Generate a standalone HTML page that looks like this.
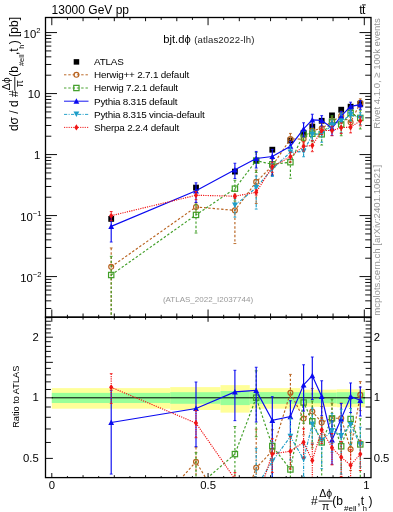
<!DOCTYPE html><html><head><meta charset="utf-8"><style>html,body{margin:0;padding:0;background:#fff;}svg{display:block;will-change:transform;}text{font-family:"Liberation Sans",sans-serif;}</style></head><body>
<svg width="393" height="512" viewBox="0 0 393 512">
<defs><clipPath id="cm"><rect x="45.50" y="17.50" width="325.50" height="299.70"/></clipPath>
<clipPath id="cr"><rect x="45.50" y="317.20" width="325.50" height="160.40"/></clipPath></defs>
<rect x="51.80" y="388.13" width="118.40" height="20.55" fill="#ffff99"/>
<rect x="170.20" y="387.11" width="50.30" height="22.86" fill="#ffff99"/>
<rect x="220.50" y="385.13" width="29.30" height="27.50" fill="#ffff99"/>
<rect x="249.80" y="388.13" width="50.60" height="20.55" fill="#ffff99"/>
<rect x="300.40" y="389.63" width="36.30" height="17.19" fill="#ffff99"/>
<rect x="336.70" y="389.23" width="28.10" height="18.07" fill="#ffff99"/>
<rect x="51.80" y="392.87" width="118.40" height="10.15" fill="#99ff99"/>
<rect x="170.20" y="392.21" width="50.30" height="11.56" fill="#99ff99"/>
<rect x="220.50" y="391.07" width="29.30" height="14.02" fill="#99ff99"/>
<rect x="249.80" y="392.13" width="50.60" height="11.73" fill="#99ff99"/>
<rect x="300.40" y="392.62" width="36.30" height="10.68" fill="#99ff99"/>
<rect x="336.70" y="392.21" width="28.10" height="11.56" fill="#99ff99"/>
<path d="M51.80,397.8H364.80" stroke="#000" stroke-width="1"/>
<g clip-path="url(#cm)">
<rect x="108.30" y="216.00" width="5.80" height="5.80" fill="#000"/><rect x="193.10" y="184.70" width="5.80" height="5.80" fill="#000"/><rect x="232.00" y="168.70" width="5.80" height="5.80" fill="#000"/><rect x="253.30" y="157.80" width="5.80" height="5.80" fill="#000"/><rect x="269.40" y="146.80" width="5.80" height="5.80" fill="#000"/><rect x="287.50" y="137.60" width="5.80" height="5.80" fill="#000"/><rect x="300.70" y="129.90" width="5.80" height="5.80" fill="#000"/><rect x="309.40" y="123.70" width="5.80" height="5.80" fill="#000"/><rect x="318.80" y="117.90" width="5.80" height="5.80" fill="#000"/><rect x="329.10" y="112.50" width="5.80" height="5.80" fill="#000"/><rect x="338.30" y="106.80" width="5.80" height="5.80" fill="#000"/><rect x="347.70" y="103.80" width="5.80" height="5.80" fill="#000"/><rect x="357.40" y="100.90" width="5.80" height="5.80" fill="#000"/>
<path d="M111.20,247.95V600.00M196.00,202.54V212.35M234.90,196.13V243.54M256.20,170.19V203.47M272.30,159.37V174.36M290.40,133.41V146.05M303.60,134.97V144.00M312.30,123.76V140.27M321.70,123.45V134.12M332.00,117.01V127.18M341.20,111.29V121.45M350.60,117.09V128.72M360.30,98.89V107.68" stroke="#b8621e" stroke-width="1.15" stroke-dasharray="2.4,1.9" fill="none"/>
<path d="M109.80,247.95h2.8M194.60,202.54h2.8M194.60,212.35h2.8M233.50,196.13h2.8M233.50,243.54h2.8M254.80,170.19h2.8M254.80,203.47h2.8M270.90,159.37h2.8M270.90,174.36h2.8M289.00,133.41h2.8M289.00,146.05h2.8M302.20,134.97h2.8M302.20,144.00h2.8M310.90,123.76h2.8M310.90,140.27h2.8M320.30,123.45h2.8M320.30,134.12h2.8M330.60,117.01h2.8M330.60,127.18h2.8M339.80,111.29h2.8M339.80,121.45h2.8M349.20,117.09h2.8M349.20,128.72h2.8M358.90,98.89h2.8M358.90,107.68h2.8" stroke="#b8621e" stroke-width="0.9" fill="none"/>
<path d="M111.20,266.80L196.00,206.99L234.90,210.40L256.20,181.91L272.30,165.82L290.40,138.98L303.60,139.10L312.30,130.75L321.70,128.25L332.00,121.61L341.20,115.88L350.60,122.28L360.30,102.92" stroke="#b8621e" stroke-width="1.15" stroke-dasharray="2.4,1.9" fill="none"/>
<circle cx="111.20" cy="266.80" r="2.45" fill="none" stroke="#b8621e" stroke-width="1.2"/><circle cx="196.00" cy="206.99" r="2.45" fill="none" stroke="#b8621e" stroke-width="1.2"/><circle cx="234.90" cy="210.40" r="2.45" fill="none" stroke="#b8621e" stroke-width="1.2"/><circle cx="256.20" cy="181.91" r="2.45" fill="none" stroke="#b8621e" stroke-width="1.2"/><circle cx="272.30" cy="165.82" r="2.45" fill="none" stroke="#b8621e" stroke-width="1.2"/><circle cx="290.40" cy="138.98" r="2.45" fill="none" stroke="#b8621e" stroke-width="1.2"/><circle cx="303.60" cy="139.10" r="2.45" fill="none" stroke="#b8621e" stroke-width="1.2"/><circle cx="312.30" cy="130.75" r="2.45" fill="none" stroke="#b8621e" stroke-width="1.2"/><circle cx="321.70" cy="128.25" r="2.45" fill="none" stroke="#b8621e" stroke-width="1.2"/><circle cx="332.00" cy="121.61" r="2.45" fill="none" stroke="#b8621e" stroke-width="1.2"/><circle cx="341.20" cy="115.88" r="2.45" fill="none" stroke="#b8621e" stroke-width="1.2"/><circle cx="350.60" cy="122.28" r="2.45" fill="none" stroke="#b8621e" stroke-width="1.2"/><circle cx="360.30" cy="102.92" r="2.45" fill="none" stroke="#b8621e" stroke-width="1.2"/>
<path d="M111.20,256.34V600.00M196.00,204.23V233.05M234.90,180.30V200.95M256.20,152.53V172.48M272.30,156.41V175.60M290.40,152.31V178.26M303.60,129.15V140.50M312.30,127.56V141.76M321.70,126.70V145.05M332.00,115.77V129.20M341.20,116.48V135.74M350.60,107.11V120.92M360.30,110.15V128.96" stroke="#3f9e26" stroke-width="1.15" stroke-dasharray="2.4,1.9" fill="none"/>
<path d="M109.80,256.34h2.8M194.60,204.23h2.8M194.60,233.05h2.8M233.50,180.30h2.8M233.50,200.95h2.8M254.80,152.53h2.8M254.80,172.48h2.8M270.90,156.41h2.8M270.90,175.60h2.8M289.00,152.31h2.8M289.00,178.26h2.8M302.20,129.15h2.8M302.20,140.50h2.8M310.90,127.56h2.8M310.90,141.76h2.8M320.30,126.70h2.8M320.30,145.05h2.8M330.60,115.77h2.8M330.60,129.20h2.8M339.80,116.48h2.8M339.80,135.74h2.8M349.20,107.11h2.8M349.20,120.92h2.8M358.90,110.15h2.8M358.90,128.96h2.8" stroke="#3f9e26" stroke-width="0.9" fill="none"/>
<path d="M111.20,275.00L196.00,214.90L234.90,188.66L256.20,160.67L272.30,164.31L290.40,162.23L303.60,134.22L312.30,133.72L321.70,134.31L332.00,121.64L341.20,124.40L350.60,113.12L360.30,117.92" stroke="#3f9e26" stroke-width="1.15" stroke-dasharray="2.4,1.9" fill="none"/>
<rect x="108.55" y="272.35" width="5.30" height="5.30" fill="none" stroke="#3f9e26" stroke-width="1.2"/><rect x="193.35" y="212.25" width="5.30" height="5.30" fill="none" stroke="#3f9e26" stroke-width="1.2"/><rect x="232.25" y="186.01" width="5.30" height="5.30" fill="none" stroke="#3f9e26" stroke-width="1.2"/><rect x="253.55" y="158.02" width="5.30" height="5.30" fill="none" stroke="#3f9e26" stroke-width="1.2"/><rect x="269.65" y="161.66" width="5.30" height="5.30" fill="none" stroke="#3f9e26" stroke-width="1.2"/><rect x="287.75" y="159.58" width="5.30" height="5.30" fill="none" stroke="#3f9e26" stroke-width="1.2"/><rect x="300.95" y="131.57" width="5.30" height="5.30" fill="none" stroke="#3f9e26" stroke-width="1.2"/><rect x="309.65" y="131.07" width="5.30" height="5.30" fill="none" stroke="#3f9e26" stroke-width="1.2"/><rect x="319.05" y="131.66" width="5.30" height="5.30" fill="none" stroke="#3f9e26" stroke-width="1.2"/><rect x="329.35" y="118.99" width="5.30" height="5.30" fill="none" stroke="#3f9e26" stroke-width="1.2"/><rect x="338.55" y="121.75" width="5.30" height="5.30" fill="none" stroke="#3f9e26" stroke-width="1.2"/><rect x="347.95" y="110.47" width="5.30" height="5.30" fill="none" stroke="#3f9e26" stroke-width="1.2"/><rect x="357.65" y="115.27" width="5.30" height="5.30" fill="none" stroke="#3f9e26" stroke-width="1.2"/>
<path d="M111.20,216.62V242.02M196.00,182.82V202.41M234.90,163.26V178.53M256.20,151.44V168.03M272.30,149.36V175.82M290.40,141.40V152.05M303.60,122.79V136.83M312.30,114.24V127.12M321.70,115.64V126.22M332.00,122.42V135.56M341.20,111.44V121.67M350.60,102.20V111.16M360.30,100.52V109.32" stroke="#0a0af0" stroke-width="1.15" fill="none"/>
<path d="M109.80,216.62h2.8M109.80,242.02h2.8M194.60,182.82h2.8M194.60,202.41h2.8M233.50,163.26h2.8M233.50,178.53h2.8M254.80,151.44h2.8M254.80,168.03h2.8M270.90,149.36h2.8M270.90,175.82h2.8M289.00,141.40h2.8M289.00,152.05h2.8M302.20,122.79h2.8M302.20,136.83h2.8M310.90,114.24h2.8M310.90,127.12h2.8M320.30,115.64h2.8M320.30,126.22h2.8M330.60,122.42h2.8M330.60,135.56h2.8M339.80,111.44h2.8M339.80,121.67h2.8M349.20,102.20h2.8M349.20,111.16h2.8M358.90,100.52h2.8M358.90,109.32h2.8" stroke="#0a0af0" stroke-width="0.9" fill="none"/>
<path d="M111.20,226.38L196.00,190.84L234.90,169.81L256.20,158.46L272.30,156.52L290.40,146.20L303.60,128.89L312.30,119.90L321.70,120.41L332.00,128.19L341.20,116.06L350.60,106.31L360.30,104.56" stroke="#0a0af0" stroke-width="1.15" fill="none"/>
<path d="M111.20,223.48L114.10,228.98L108.30,228.98Z" fill="#0a0af0"/><path d="M196.00,187.94L198.90,193.44L193.10,193.44Z" fill="#0a0af0"/><path d="M234.90,166.91L237.80,172.41L232.00,172.41Z" fill="#0a0af0"/><path d="M256.20,155.56L259.10,161.06L253.30,161.06Z" fill="#0a0af0"/><path d="M272.30,153.62L275.20,159.12L269.40,159.12Z" fill="#0a0af0"/><path d="M290.40,143.30L293.30,148.80L287.50,148.80Z" fill="#0a0af0"/><path d="M303.60,125.99L306.50,131.49L300.70,131.49Z" fill="#0a0af0"/><path d="M312.30,117.00L315.20,122.50L309.40,122.50Z" fill="#0a0af0"/><path d="M321.70,117.51L324.60,123.01L318.80,123.01Z" fill="#0a0af0"/><path d="M332.00,125.29L334.90,130.79L329.10,130.79Z" fill="#0a0af0"/><path d="M341.20,113.16L344.10,118.66L338.30,118.66Z" fill="#0a0af0"/><path d="M350.60,103.41L353.50,108.91L347.70,108.91Z" fill="#0a0af0"/><path d="M360.30,101.66L363.20,107.16L357.40,107.16Z" fill="#0a0af0"/>
<path d="M234.90,197.29V217.15M256.20,176.02V209.10M272.30,163.07V176.50M290.40,146.69V159.31M303.60,147.01V156.75M312.30,129.71V140.61M321.70,127.24V142.29M332.00,120.13V131.90M341.20,113.16V132.84M350.60,109.96V120.93M360.30,112.72V124.71" stroke="#1e9ec8" stroke-width="1.15" stroke-dasharray="3.2,1.4,1,1.4" fill="none"/>
<path d="M233.50,197.29h2.8M233.50,217.15h2.8M254.80,176.02h2.8M254.80,209.10h2.8M270.90,163.07h2.8M270.90,176.50h2.8M289.00,146.69h2.8M289.00,159.31h2.8M302.20,147.01h2.8M302.20,156.75h2.8M310.90,129.71h2.8M310.90,140.61h2.8M320.30,127.24h2.8M320.30,142.29h2.8M330.60,120.13h2.8M330.60,131.90h2.8M339.80,113.16h2.8M339.80,132.84h2.8M349.20,109.96h2.8M349.20,120.93h2.8M358.90,112.72h2.8M358.90,124.71h2.8" stroke="#1e9ec8" stroke-width="0.9" fill="none"/>
<path d="M234.90,205.40L256.20,187.70L272.30,168.94L290.40,152.26L303.60,151.44L312.30,134.60L321.70,133.71L332.00,125.37L341.20,121.21L350.60,114.88L360.30,118.04" stroke="#1e9ec8" stroke-width="1.15" stroke-dasharray="3.2,1.4,1,1.4" fill="none"/>
<path d="M234.90,208.10L237.80,202.60L232.00,202.60Z" fill="#1e9ec8"/><path d="M256.20,190.40L259.10,184.90L253.30,184.90Z" fill="#1e9ec8"/><path d="M272.30,171.64L275.20,166.14L269.40,166.14Z" fill="#1e9ec8"/><path d="M290.40,154.96L293.30,149.46L287.50,149.46Z" fill="#1e9ec8"/><path d="M303.60,154.14L306.50,148.64L300.70,148.64Z" fill="#1e9ec8"/><path d="M312.30,137.30L315.20,131.80L309.40,131.80Z" fill="#1e9ec8"/><path d="M321.70,136.41L324.60,130.91L318.80,130.91Z" fill="#1e9ec8"/><path d="M332.00,128.07L334.90,122.57L329.10,122.57Z" fill="#1e9ec8"/><path d="M341.20,123.91L344.10,118.41L338.30,118.41Z" fill="#1e9ec8"/><path d="M350.60,117.58L353.50,112.08L347.70,112.08Z" fill="#1e9ec8"/><path d="M360.30,120.74L363.20,115.24L357.40,115.24Z" fill="#1e9ec8"/>
<path d="M111.20,211.59V220.61M196.00,191.48V199.68M234.90,194.26V198.29M256.20,189.80V195.06M272.30,162.12V172.32M290.40,152.20V162.07M303.60,142.18V151.07M312.30,140.66V151.67M321.70,126.93V134.62M332.00,126.23V135.72M341.20,122.93V133.52M350.60,122.41V132.86M360.30,116.67V125.84" stroke="#f01414" stroke-width="1.15" stroke-dasharray="1.2,1.1" fill="none"/>
<path d="M109.80,211.59h2.8M109.80,220.61h2.8M194.60,191.48h2.8M194.60,199.68h2.8M233.50,194.26h2.8M233.50,198.29h2.8M254.80,189.80h2.8M254.80,195.06h2.8M270.90,162.12h2.8M270.90,172.32h2.8M289.00,152.20h2.8M289.00,162.07h2.8M302.20,142.18h2.8M302.20,151.07h2.8M310.90,140.66h2.8M310.90,151.67h2.8M320.30,126.93h2.8M320.30,134.62h2.8M330.60,126.23h2.8M330.60,135.72h2.8M339.80,122.93h2.8M339.80,133.52h2.8M349.20,122.41h2.8M349.20,132.86h2.8M358.90,116.67h2.8M358.90,125.84h2.8" stroke="#f01414" stroke-width="0.9" fill="none"/>
<path d="M111.20,215.72L196.00,195.27L234.90,196.20L256.20,192.30L272.30,166.73L290.40,156.68L303.60,146.25L312.30,145.60L321.70,130.50L332.00,130.55L341.20,127.70L350.60,127.12L360.30,120.86" stroke="#f01414" stroke-width="1.15" stroke-dasharray="1.2,1.1" fill="none"/>
<path d="M111.20,212.62L113.30,215.72L111.20,218.82L109.10,215.72Z" fill="#f01414"/><path d="M196.00,192.17L198.10,195.27L196.00,198.37L193.90,195.27Z" fill="#f01414"/><path d="M234.90,193.10L237.00,196.20L234.90,199.30L232.80,196.20Z" fill="#f01414"/><path d="M256.20,189.20L258.30,192.30L256.20,195.40L254.10,192.30Z" fill="#f01414"/><path d="M272.30,163.63L274.40,166.73L272.30,169.83L270.20,166.73Z" fill="#f01414"/><path d="M290.40,153.58L292.50,156.68L290.40,159.78L288.30,156.68Z" fill="#f01414"/><path d="M303.60,143.15L305.70,146.25L303.60,149.35L301.50,146.25Z" fill="#f01414"/><path d="M312.30,142.50L314.40,145.60L312.30,148.70L310.20,145.60Z" fill="#f01414"/><path d="M321.70,127.40L323.80,130.50L321.70,133.60L319.60,130.50Z" fill="#f01414"/><path d="M332.00,127.45L334.10,130.55L332.00,133.65L329.90,130.55Z" fill="#f01414"/><path d="M341.20,124.60L343.30,127.70L341.20,130.80L339.10,127.70Z" fill="#f01414"/><path d="M350.60,124.02L352.70,127.12L350.60,130.22L348.50,127.12Z" fill="#f01414"/><path d="M360.30,117.76L362.40,120.86L360.30,123.96L358.20,120.86Z" fill="#f01414"/>
</g>
<g clip-path="url(#cr)">
<path d="M111.20,493.68V600.00M196.00,447.11V479.47M234.90,478.75V635.21M256.20,429.10V538.93M272.30,429.72V479.19M290.40,374.40V416.13M303.60,404.97V434.76M312.30,388.44V442.90M321.70,406.55V441.77M332.00,403.12V436.68M341.20,403.03V436.56M350.60,432.10V470.48M360.30,381.59V410.61" stroke="#b8621e" stroke-width="1.15" stroke-dasharray="2.4,1.9" fill="none"/>
<path d="M109.80,493.68h2.8M194.60,447.11h2.8M194.60,479.47h2.8M233.50,478.75h2.8M233.50,635.21h2.8M254.80,429.10h2.8M254.80,538.93h2.8M270.90,429.72h2.8M270.90,479.19h2.8M289.00,374.40h2.8M289.00,416.13h2.8M302.20,404.97h2.8M302.20,434.76h2.8M310.90,388.44h2.8M310.90,442.90h2.8M320.30,406.55h2.8M320.30,441.77h2.8M330.60,403.12h2.8M330.60,436.68h2.8M339.80,403.03h2.8M339.80,436.56h2.8M349.20,432.10h2.8M349.20,470.48h2.8M358.90,381.59h2.8M358.90,410.61h2.8" stroke="#b8621e" stroke-width="0.9" fill="none"/>
<path d="M111.20,555.88L196.00,461.80L234.90,525.85L256.20,467.80L272.30,451.00L290.40,392.80L303.60,418.60L312.30,411.50L321.70,422.40L332.00,418.30L341.20,418.20L350.60,449.20L360.30,394.90" stroke="#b8621e" stroke-width="1.15" stroke-dasharray="2.4,1.9" fill="none"/>
<circle cx="111.20" cy="555.88" r="2.45" fill="none" stroke="#b8621e" stroke-width="1.2"/><circle cx="196.00" cy="461.80" r="2.45" fill="none" stroke="#b8621e" stroke-width="1.2"/><circle cx="234.90" cy="525.85" r="2.45" fill="none" stroke="#b8621e" stroke-width="1.2"/><circle cx="256.20" cy="467.80" r="2.45" fill="none" stroke="#b8621e" stroke-width="1.2"/><circle cx="272.30" cy="451.00" r="2.45" fill="none" stroke="#b8621e" stroke-width="1.2"/><circle cx="290.40" cy="392.80" r="2.45" fill="none" stroke="#b8621e" stroke-width="1.2"/><circle cx="303.60" cy="418.60" r="2.45" fill="none" stroke="#b8621e" stroke-width="1.2"/><circle cx="312.30" cy="411.50" r="2.45" fill="none" stroke="#b8621e" stroke-width="1.2"/><circle cx="321.70" cy="422.40" r="2.45" fill="none" stroke="#b8621e" stroke-width="1.2"/><circle cx="332.00" cy="418.30" r="2.45" fill="none" stroke="#b8621e" stroke-width="1.2"/><circle cx="341.20" cy="418.20" r="2.45" fill="none" stroke="#b8621e" stroke-width="1.2"/><circle cx="350.60" cy="449.20" r="2.45" fill="none" stroke="#b8621e" stroke-width="1.2"/><circle cx="360.30" cy="394.90" r="2.45" fill="none" stroke="#b8621e" stroke-width="1.2"/>
<path d="M111.20,521.37V600.00M196.00,452.68V547.80M234.90,426.50V494.67M256.20,370.84V436.66M272.30,419.95V483.27M290.40,436.77V522.43M303.60,385.76V423.22M312.30,400.98V447.82M321.70,417.26V477.82M332.00,399.03V443.33M341.20,420.17V483.73M350.60,399.15V444.72M360.30,418.76V480.84" stroke="#3f9e26" stroke-width="1.15" stroke-dasharray="2.4,1.9" fill="none"/>
<path d="M109.80,521.37h2.8M194.60,452.68h2.8M194.60,547.80h2.8M233.50,426.50h2.8M233.50,494.67h2.8M254.80,370.84h2.8M254.80,436.66h2.8M270.90,419.95h2.8M270.90,483.27h2.8M289.00,436.77h2.8M289.00,522.43h2.8M302.20,385.76h2.8M302.20,423.22h2.8M310.90,400.98h2.8M310.90,447.82h2.8M320.30,417.26h2.8M320.30,477.82h2.8M330.60,399.03h2.8M330.60,443.33h2.8M339.80,420.17h2.8M339.80,483.73h2.8M349.20,399.15h2.8M349.20,444.72h2.8M358.90,418.76h2.8M358.90,480.84h2.8" stroke="#3f9e26" stroke-width="0.9" fill="none"/>
<path d="M111.20,582.94L196.00,487.89L234.90,454.10L256.20,397.70L272.30,446.00L290.40,469.50L303.60,402.50L312.30,421.30L321.70,442.40L332.00,418.40L341.20,446.30L350.60,419.00L360.30,444.40" stroke="#3f9e26" stroke-width="1.15" stroke-dasharray="2.4,1.9" fill="none"/>
<rect x="108.55" y="580.29" width="5.30" height="5.30" fill="none" stroke="#3f9e26" stroke-width="1.2"/><rect x="193.35" y="485.24" width="5.30" height="5.30" fill="none" stroke="#3f9e26" stroke-width="1.2"/><rect x="232.25" y="451.45" width="5.30" height="5.30" fill="none" stroke="#3f9e26" stroke-width="1.2"/><rect x="253.55" y="395.05" width="5.30" height="5.30" fill="none" stroke="#3f9e26" stroke-width="1.2"/><rect x="269.65" y="443.35" width="5.30" height="5.30" fill="none" stroke="#3f9e26" stroke-width="1.2"/><rect x="287.75" y="466.85" width="5.30" height="5.30" fill="none" stroke="#3f9e26" stroke-width="1.2"/><rect x="300.95" y="399.85" width="5.30" height="5.30" fill="none" stroke="#3f9e26" stroke-width="1.2"/><rect x="309.65" y="418.65" width="5.30" height="5.30" fill="none" stroke="#3f9e26" stroke-width="1.2"/><rect x="319.05" y="439.75" width="5.30" height="5.30" fill="none" stroke="#3f9e26" stroke-width="1.2"/><rect x="329.35" y="415.75" width="5.30" height="5.30" fill="none" stroke="#3f9e26" stroke-width="1.2"/><rect x="338.55" y="443.65" width="5.30" height="5.30" fill="none" stroke="#3f9e26" stroke-width="1.2"/><rect x="347.95" y="416.35" width="5.30" height="5.30" fill="none" stroke="#3f9e26" stroke-width="1.2"/><rect x="357.65" y="441.75" width="5.30" height="5.30" fill="none" stroke="#3f9e26" stroke-width="1.2"/>
<path d="M111.20,390.28V474.09M196.00,382.02V446.67M234.90,370.29V420.67M256.20,367.25V421.99M272.30,396.66V484.00M290.40,400.78V435.93M303.60,364.77V411.09M312.30,357.00V399.51M321.70,380.78V415.69M332.00,420.98V464.35M341.20,403.54V437.30M350.60,382.96V412.53M360.30,386.97V416.03" stroke="#0a0af0" stroke-width="1.15" fill="none"/>
<path d="M109.80,390.28h2.8M109.80,474.09h2.8M194.60,382.02h2.8M194.60,446.67h2.8M233.50,370.29h2.8M233.50,420.67h2.8M254.80,367.25h2.8M254.80,421.99h2.8M270.90,396.66h2.8M270.90,484.00h2.8M289.00,400.78h2.8M289.00,435.93h2.8M302.20,364.77h2.8M302.20,411.09h2.8M310.90,357.00h2.8M310.90,399.51h2.8M320.30,380.78h2.8M320.30,415.69h2.8M330.60,420.98h2.8M330.60,464.35h2.8M339.80,403.54h2.8M339.80,437.30h2.8M349.20,382.96h2.8M349.20,412.53h2.8M358.90,386.97h2.8M358.90,416.03h2.8" stroke="#0a0af0" stroke-width="0.9" fill="none"/>
<path d="M111.20,422.50L196.00,408.50L234.90,391.90L256.20,390.40L272.30,420.30L290.40,416.60L303.60,384.90L312.30,375.70L321.70,396.50L332.00,440.00L341.20,418.80L350.60,396.50L360.30,400.30" stroke="#0a0af0" stroke-width="1.15" fill="none"/>
<path d="M111.20,419.60L114.10,425.10L108.30,425.10Z" fill="#0a0af0"/><path d="M196.00,405.60L198.90,411.10L193.10,411.10Z" fill="#0a0af0"/><path d="M234.90,389.00L237.80,394.50L232.00,394.50Z" fill="#0a0af0"/><path d="M256.20,387.50L259.10,393.00L253.30,393.00Z" fill="#0a0af0"/><path d="M272.30,417.40L275.20,422.90L269.40,422.90Z" fill="#0a0af0"/><path d="M290.40,413.70L293.30,419.20L287.50,419.20Z" fill="#0a0af0"/><path d="M303.60,382.00L306.50,387.50L300.70,387.50Z" fill="#0a0af0"/><path d="M312.30,372.80L315.20,378.30L309.40,378.30Z" fill="#0a0af0"/><path d="M321.70,393.60L324.60,399.10L318.80,399.10Z" fill="#0a0af0"/><path d="M332.00,437.10L334.90,442.60L329.10,442.60Z" fill="#0a0af0"/><path d="M341.20,415.90L344.10,421.40L338.30,421.40Z" fill="#0a0af0"/><path d="M350.60,393.60L353.50,399.10L347.70,399.10Z" fill="#0a0af0"/><path d="M360.30,397.40L363.20,402.90L357.40,402.90Z" fill="#0a0af0"/>
<path d="M234.90,482.58V548.11M256.20,448.35V557.53M272.30,441.92V486.23M290.40,418.23V459.88M303.60,444.69V476.85M312.30,408.05V444.02M321.70,419.04V468.72M332.00,413.42V452.26M341.20,409.23V474.17M350.60,408.55V444.78M360.30,427.23V466.81" stroke="#1e9ec8" stroke-width="1.15" stroke-dasharray="3.2,1.4,1,1.4" fill="none"/>
<path d="M233.50,482.58h2.8M233.50,548.11h2.8M254.80,448.35h2.8M254.80,557.53h2.8M270.90,441.92h2.8M270.90,486.23h2.8M289.00,418.23h2.8M289.00,459.88h2.8M302.20,444.69h2.8M302.20,476.85h2.8M310.90,408.05h2.8M310.90,444.02h2.8M320.30,419.04h2.8M320.30,468.72h2.8M330.60,413.42h2.8M330.60,452.26h2.8M339.80,409.23h2.8M339.80,474.17h2.8M349.20,408.55h2.8M349.20,444.78h2.8M358.90,427.23h2.8M358.90,466.81h2.8" stroke="#1e9ec8" stroke-width="0.9" fill="none"/>
<path d="M234.90,509.34L256.20,486.90L272.30,461.30L290.40,436.60L303.60,459.30L312.30,424.20L321.70,440.40L332.00,430.70L341.20,435.80L350.60,424.80L360.30,444.80" stroke="#1e9ec8" stroke-width="1.15" stroke-dasharray="3.2,1.4,1,1.4" fill="none"/>
<path d="M234.90,512.04L237.80,506.54L232.00,506.54Z" fill="#1e9ec8"/><path d="M256.20,489.60L259.10,484.10L253.30,484.10Z" fill="#1e9ec8"/><path d="M272.30,464.00L275.20,458.50L269.40,458.50Z" fill="#1e9ec8"/><path d="M290.40,439.30L293.30,433.80L287.50,433.80Z" fill="#1e9ec8"/><path d="M303.60,462.00L306.50,456.50L300.70,456.50Z" fill="#1e9ec8"/><path d="M312.30,426.90L315.20,421.40L309.40,421.40Z" fill="#1e9ec8"/><path d="M321.70,443.10L324.60,437.60L318.80,437.60Z" fill="#1e9ec8"/><path d="M332.00,433.40L334.90,427.90L329.10,427.90Z" fill="#1e9ec8"/><path d="M341.20,438.50L344.10,433.00L338.30,433.00Z" fill="#1e9ec8"/><path d="M350.60,427.50L353.50,422.00L347.70,422.00Z" fill="#1e9ec8"/><path d="M360.30,447.50L363.20,442.00L357.40,442.00Z" fill="#1e9ec8"/>
<path d="M111.20,373.69V403.43M196.00,410.61V437.68M234.90,472.59V485.89M256.20,493.84V511.19M272.30,438.78V472.44M290.40,436.42V469.00M303.60,428.76V458.09M312.30,444.21V480.54M321.70,418.02V443.41M332.00,433.54V464.85M341.20,441.46V476.41M350.60,449.66V484.12M360.30,440.27V470.53" stroke="#f01414" stroke-width="1.15" stroke-dasharray="1.2,1.1" fill="none"/>
<path d="M109.80,373.69h2.8M109.80,403.43h2.8M194.60,410.61h2.8M194.60,437.68h2.8M233.50,472.59h2.8M233.50,485.89h2.8M254.80,493.84h2.8M254.80,511.19h2.8M270.90,438.78h2.8M270.90,472.44h2.8M289.00,436.42h2.8M289.00,469.00h2.8M302.20,428.76h2.8M302.20,458.09h2.8M310.90,444.21h2.8M310.90,480.54h2.8M320.30,418.02h2.8M320.30,443.41h2.8M330.60,433.54h2.8M330.60,464.85h2.8M339.80,441.46h2.8M339.80,476.41h2.8M349.20,449.66h2.8M349.20,484.12h2.8M358.90,440.27h2.8M358.90,470.53h2.8" stroke="#f01414" stroke-width="0.9" fill="none"/>
<path d="M111.20,387.30L196.00,423.10L234.90,478.98L256.20,502.08L272.30,454.00L290.40,451.20L303.60,442.20L312.30,460.50L321.70,429.80L332.00,447.80L341.20,457.20L350.60,465.20L360.30,454.10" stroke="#f01414" stroke-width="1.15" stroke-dasharray="1.2,1.1" fill="none"/>
<path d="M111.20,384.20L113.30,387.30L111.20,390.40L109.10,387.30Z" fill="#f01414"/><path d="M196.00,420.00L198.10,423.10L196.00,426.20L193.90,423.10Z" fill="#f01414"/><path d="M234.90,475.88L237.00,478.98L234.90,482.08L232.80,478.98Z" fill="#f01414"/><path d="M256.20,498.98L258.30,502.08L256.20,505.18L254.10,502.08Z" fill="#f01414"/><path d="M272.30,450.90L274.40,454.00L272.30,457.10L270.20,454.00Z" fill="#f01414"/><path d="M290.40,448.10L292.50,451.20L290.40,454.30L288.30,451.20Z" fill="#f01414"/><path d="M303.60,439.10L305.70,442.20L303.60,445.30L301.50,442.20Z" fill="#f01414"/><path d="M312.30,457.40L314.40,460.50L312.30,463.60L310.20,460.50Z" fill="#f01414"/><path d="M321.70,426.70L323.80,429.80L321.70,432.90L319.60,429.80Z" fill="#f01414"/><path d="M332.00,444.70L334.10,447.80L332.00,450.90L329.90,447.80Z" fill="#f01414"/><path d="M341.20,454.10L343.30,457.20L341.20,460.30L339.10,457.20Z" fill="#f01414"/><path d="M350.60,462.10L352.70,465.20L350.60,468.30L348.50,465.20Z" fill="#f01414"/><path d="M360.30,451.00L362.40,454.10L360.30,457.20L358.20,454.10Z" fill="#f01414"/>
</g>
<rect x="45.5" y="17.5" width="325.5" height="299.7" fill="none" stroke="#000" stroke-width="1.3"/>
<rect x="45.5" y="317.2" width="325.5" height="160.40000000000003" fill="none" stroke="#000" stroke-width="1.3"/>
<path d="M51.80,17.5v7.7M51.80,317.2v-7.7M51.80,317.2v4.6M51.80,477.6v-4.6M67.42,17.5v2.4M67.42,317.2v-2.4M67.42,317.2v1.5M67.42,477.6v-1.5M83.05,17.5v3.7M83.05,317.2v-3.7M83.05,317.2v2.4M83.05,477.6v-2.4M98.68,17.5v2.4M98.68,317.2v-2.4M98.68,317.2v1.5M98.68,477.6v-1.5M114.30,17.5v3.7M114.30,317.2v-3.7M114.30,317.2v2.4M114.30,477.6v-2.4M129.93,17.5v2.4M129.93,317.2v-2.4M129.93,317.2v1.5M129.93,477.6v-1.5M145.55,17.5v3.7M145.55,317.2v-3.7M145.55,317.2v2.4M145.55,477.6v-2.4M161.18,17.5v2.4M161.18,317.2v-2.4M161.18,317.2v1.5M161.18,477.6v-1.5M176.80,17.5v3.7M176.80,317.2v-3.7M176.80,317.2v2.4M176.80,477.6v-2.4M192.43,17.5v2.4M192.43,317.2v-2.4M192.43,317.2v1.5M192.43,477.6v-1.5M208.05,17.5v7.7M208.05,317.2v-7.7M208.05,317.2v4.6M208.05,477.6v-4.6M223.68,17.5v2.4M223.68,317.2v-2.4M223.68,317.2v1.5M223.68,477.6v-1.5M239.30,17.5v3.7M239.30,317.2v-3.7M239.30,317.2v2.4M239.30,477.6v-2.4M254.93,17.5v2.4M254.93,317.2v-2.4M254.93,317.2v1.5M254.93,477.6v-1.5M270.55,17.5v3.7M270.55,317.2v-3.7M270.55,317.2v2.4M270.55,477.6v-2.4M286.18,17.5v2.4M286.18,317.2v-2.4M286.18,317.2v1.5M286.18,477.6v-1.5M301.80,17.5v3.7M301.80,317.2v-3.7M301.80,317.2v2.4M301.80,477.6v-2.4M317.43,17.5v2.4M317.43,317.2v-2.4M317.43,317.2v1.5M317.43,477.6v-1.5M333.05,17.5v3.7M333.05,317.2v-3.7M333.05,317.2v2.4M333.05,477.6v-2.4M348.68,17.5v2.4M348.68,317.2v-2.4M348.68,317.2v1.5M348.68,477.6v-1.5M364.30,17.5v7.7M364.30,317.2v-7.7M364.30,317.2v4.6M364.30,477.6v-4.6M45.5,308.47h5.8M371.0,308.47h-5.8M45.5,300.84h5.8M371.0,300.84h-5.8M45.5,294.93h5.8M371.0,294.93h-5.8M45.5,290.10h5.8M371.0,290.10h-5.8M45.5,286.02h5.8M371.0,286.02h-5.8M45.5,282.48h5.8M371.0,282.48h-5.8M45.5,279.36h5.8M371.0,279.36h-5.8M45.5,276.57h11.5M371.0,276.57h-11.5M45.5,258.21h5.8M371.0,258.21h-5.8M45.5,247.47h5.8M371.0,247.47h-5.8M45.5,239.84h5.8M371.0,239.84h-5.8M45.5,233.93h5.8M371.0,233.93h-5.8M45.5,229.10h5.8M371.0,229.10h-5.8M45.5,225.02h5.8M371.0,225.02h-5.8M45.5,221.48h5.8M371.0,221.48h-5.8M45.5,218.36h5.8M371.0,218.36h-5.8M45.5,215.57h11.5M371.0,215.57h-11.5M45.5,197.21h5.8M371.0,197.21h-5.8M45.5,186.47h5.8M371.0,186.47h-5.8M45.5,178.84h5.8M371.0,178.84h-5.8M45.5,172.93h5.8M371.0,172.93h-5.8M45.5,168.10h5.8M371.0,168.10h-5.8M45.5,164.02h5.8M371.0,164.02h-5.8M45.5,160.48h5.8M371.0,160.48h-5.8M45.5,157.36h5.8M371.0,157.36h-5.8M45.5,154.57h11.5M371.0,154.57h-11.5M45.5,136.21h5.8M371.0,136.21h-5.8M45.5,125.47h5.8M371.0,125.47h-5.8M45.5,117.84h5.8M371.0,117.84h-5.8M45.5,111.93h5.8M371.0,111.93h-5.8M45.5,107.10h5.8M371.0,107.10h-5.8M45.5,103.02h5.8M371.0,103.02h-5.8M45.5,99.48h5.8M371.0,99.48h-5.8M45.5,96.36h5.8M371.0,96.36h-5.8M45.5,93.57h11.5M371.0,93.57h-11.5M45.5,75.21h5.8M371.0,75.21h-5.8M45.5,64.47h5.8M371.0,64.47h-5.8M45.5,56.84h5.8M371.0,56.84h-5.8M45.5,50.93h5.8M371.0,50.93h-5.8M45.5,46.10h5.8M371.0,46.10h-5.8M45.5,42.02h5.8M371.0,42.02h-5.8M45.5,38.48h5.8M371.0,38.48h-5.8M45.5,35.36h5.8M371.0,35.36h-5.8M45.5,32.57h11.5M371.0,32.57h-11.5M45.5,458.40h7.4M371.0,458.40h-7.4M45.5,442.46h5.4M371.0,442.46h-5.4M45.5,428.98h5.4M371.0,428.98h-5.4M45.5,417.31h5.4M371.0,417.31h-5.4M45.5,407.01h5.4M371.0,407.01h-5.4M45.5,397.80h7.4M371.0,397.80h-7.4M45.5,389.47h5.4M371.0,389.47h-5.4M45.5,381.86h5.4M371.0,381.86h-5.4M45.5,374.86h5.4M371.0,374.86h-5.4M45.5,368.38h5.4M371.0,368.38h-5.4M45.5,362.35h7.4M371.0,362.35h-7.4M45.5,356.71h5.4M371.0,356.71h-5.4M45.5,351.41h5.4M371.0,351.41h-5.4M45.5,346.41h5.4M371.0,346.41h-5.4M45.5,341.68h5.4M371.0,341.68h-5.4M45.5,337.20h7.4M371.0,337.20h-7.4M45.5,332.93h5.4M371.0,332.93h-5.4M45.5,328.87h5.4M371.0,328.87h-5.4M45.5,324.98h5.4M371.0,324.98h-5.4M45.5,321.26h5.4M371.0,321.26h-5.4M45.5,317.69h5.4M371.0,317.69h-5.4" stroke="#000" stroke-width="0.95" fill="none"/>
<g fill="#000">
<text x="51.6" y="14.3" font-size="12">13000 GeV pp</text>
<text x="359.2" y="14.3" font-size="12.2" letter-spacing="-0.5">tt</text><path d="M362.0,4.9H365.8" stroke="#000" stroke-width="0.9"/>
<text x="163.3" y="43.3" font-size="11.2">bjt.dϕ</text>
<text x="194.2" y="43.3" font-size="9.6" letter-spacing="0.12" fill="#222">(atlas2022-lh)</text>
<text x="36.20" y="37.57" font-size="11.3" text-anchor="end">10</text><text x="36.20" y="32.97" font-size="7.6">2</text>
<text x="40.4" y="97.57" font-size="11.3" text-anchor="end">10</text>
<text x="40.4" y="158.57" font-size="11.3" text-anchor="end">1</text>
<text x="32.80" y="220.57" font-size="11.3" text-anchor="end">10</text><text x="32.80" y="215.97" font-size="7.6">−1</text>
<text x="32.80" y="281.57" font-size="11.3" text-anchor="end">10</text><text x="32.80" y="276.97" font-size="7.6">−2</text>
<text x="38.8" y="340.80" font-size="11.3" text-anchor="end">2</text>
<text x="38.8" y="401.40" font-size="11.3" text-anchor="end">1</text>
<text x="38.8" y="462.00" font-size="11.3" text-anchor="end">0.5</text>
<text x="51.8" y="488.6" font-size="11.3" text-anchor="middle">0</text>
<text x="208.1" y="488.6" font-size="11.3" text-anchor="middle">0.5</text>
<text x="366.3" y="488.6" font-size="11.3" text-anchor="middle">1</text>
<text x="373.7" y="340.80" font-size="11.3">2</text>
<text x="373.7" y="401.40" font-size="11.3">1</text>
<text x="373.7" y="462.00" font-size="11.3">0.5</text>
<text transform="translate(18.6,396.8) rotate(-90)" font-size="9.2" text-anchor="middle">Ratio to ATLAS</text>
</g>
<text x="208" y="302" font-size="8" text-anchor="middle" fill="#999">(ATLAS_2022_I2037744)</text>
<text transform="translate(380.3,18.2) rotate(-90)" font-size="9.57" text-anchor="end" fill="#959595">Rivet 4.1.0, ≥ 100k events</text>
<text transform="translate(380.3,164.9) rotate(-90)" font-size="9.65" text-anchor="end" fill="#959595">mcplots.cern.ch [arXiv:2401.10621]</text>
<rect x="73.70" y="59.14" width="5.51" height="5.51" fill="#000"/>
<text x="94" y="64.9" font-size="9.9" letter-spacing="-0.2">ATLAS</text>
<path d="M64,74.8H88.5" stroke="#b8621e" stroke-width="0.95" stroke-dasharray="2.4,1.9"/>
<circle cx="76.40" cy="74.80" r="2.45" fill="none" stroke="#b8621e" stroke-width="1.2"/>
<text x="94" y="78.2" font-size="9.9" letter-spacing="-0.2">Herwig++ 2.7.1 default</text>
<path d="M64,88.0H88.5" stroke="#3f9e26" stroke-width="0.95" stroke-dasharray="2.4,1.9"/>
<rect x="73.75" y="85.35" width="5.30" height="5.30" fill="none" stroke="#3f9e26" stroke-width="1.2"/>
<text x="94" y="91.4" font-size="9.9" letter-spacing="-0.2">Herwig 7.2.1 default</text>
<path d="M64,101.2H88.5" stroke="#0a0af0" stroke-width="0.95"/>
<path d="M76.40,98.30L79.30,103.80L73.50,103.80Z" fill="#0a0af0"/>
<text x="94" y="104.60000000000001" font-size="9.9" letter-spacing="-0.2">Pythia 8.315 default</text>
<path d="M64,114.4H88.5" stroke="#1e9ec8" stroke-width="0.95" stroke-dasharray="3.2,1.4,1,1.4"/>
<path d="M76.40,117.10L79.30,111.60L73.50,111.60Z" fill="#1e9ec8"/>
<text x="94" y="117.80000000000001" font-size="9.9" letter-spacing="-0.2">Pythia 8.315 vincia-default</text>
<path d="M64,127.4H88.5" stroke="#f01414" stroke-width="0.95" stroke-dasharray="1.2,1.1"/>
<path d="M76.40,124.30L78.50,127.40L76.40,130.50L74.30,127.40Z" fill="#f01414"/>
<text x="94" y="130.8" font-size="9.9" letter-spacing="-0.2">Sherpa 2.2.4 default</text>
<g transform="translate(18.3,130.9) rotate(-90)"><text x="-0.2" y="0" font-size="12">dσ / d #</text><text x="47.2" y="-7.9" font-size="10.5" text-anchor="middle">Δϕ</text><path d="M40.2,-3.5H54.2" stroke="#000" stroke-width="0.9"/><text x="47.2" y="4.7" font-size="10.5" text-anchor="middle">π</text><text x="54.2" y="0" font-size="12">(b</text><text x="64.8" y="5.6" font-size="7.5">#ell</text><text x="75.9" y="0" font-size="12">,t</text><text x="82.2" y="5.6" font-size="7.5">h</text><text x="86.6" y="0" font-size="12">) [pb]</text></g>
<g><text x="311.0" y="504.5" font-size="12">#</text><text x="325.6" y="497.3" font-size="10.5" text-anchor="middle">Δϕ</text><path d="M318.6,501.1H332.6" stroke="#000" stroke-width="0.9"/><text x="325.6" y="509.5" font-size="10.5" text-anchor="middle">π</text><text x="332.2" y="505" font-size="12">(b</text><text x="344.0" y="511.2" font-size="8">#ell</text><text x="357.3" y="505" font-size="12">,t</text><text x="362.8" y="510.8" font-size="7.5">h</text><text x="368.4" y="505" font-size="12">)</text></g>
</svg></body></html>
